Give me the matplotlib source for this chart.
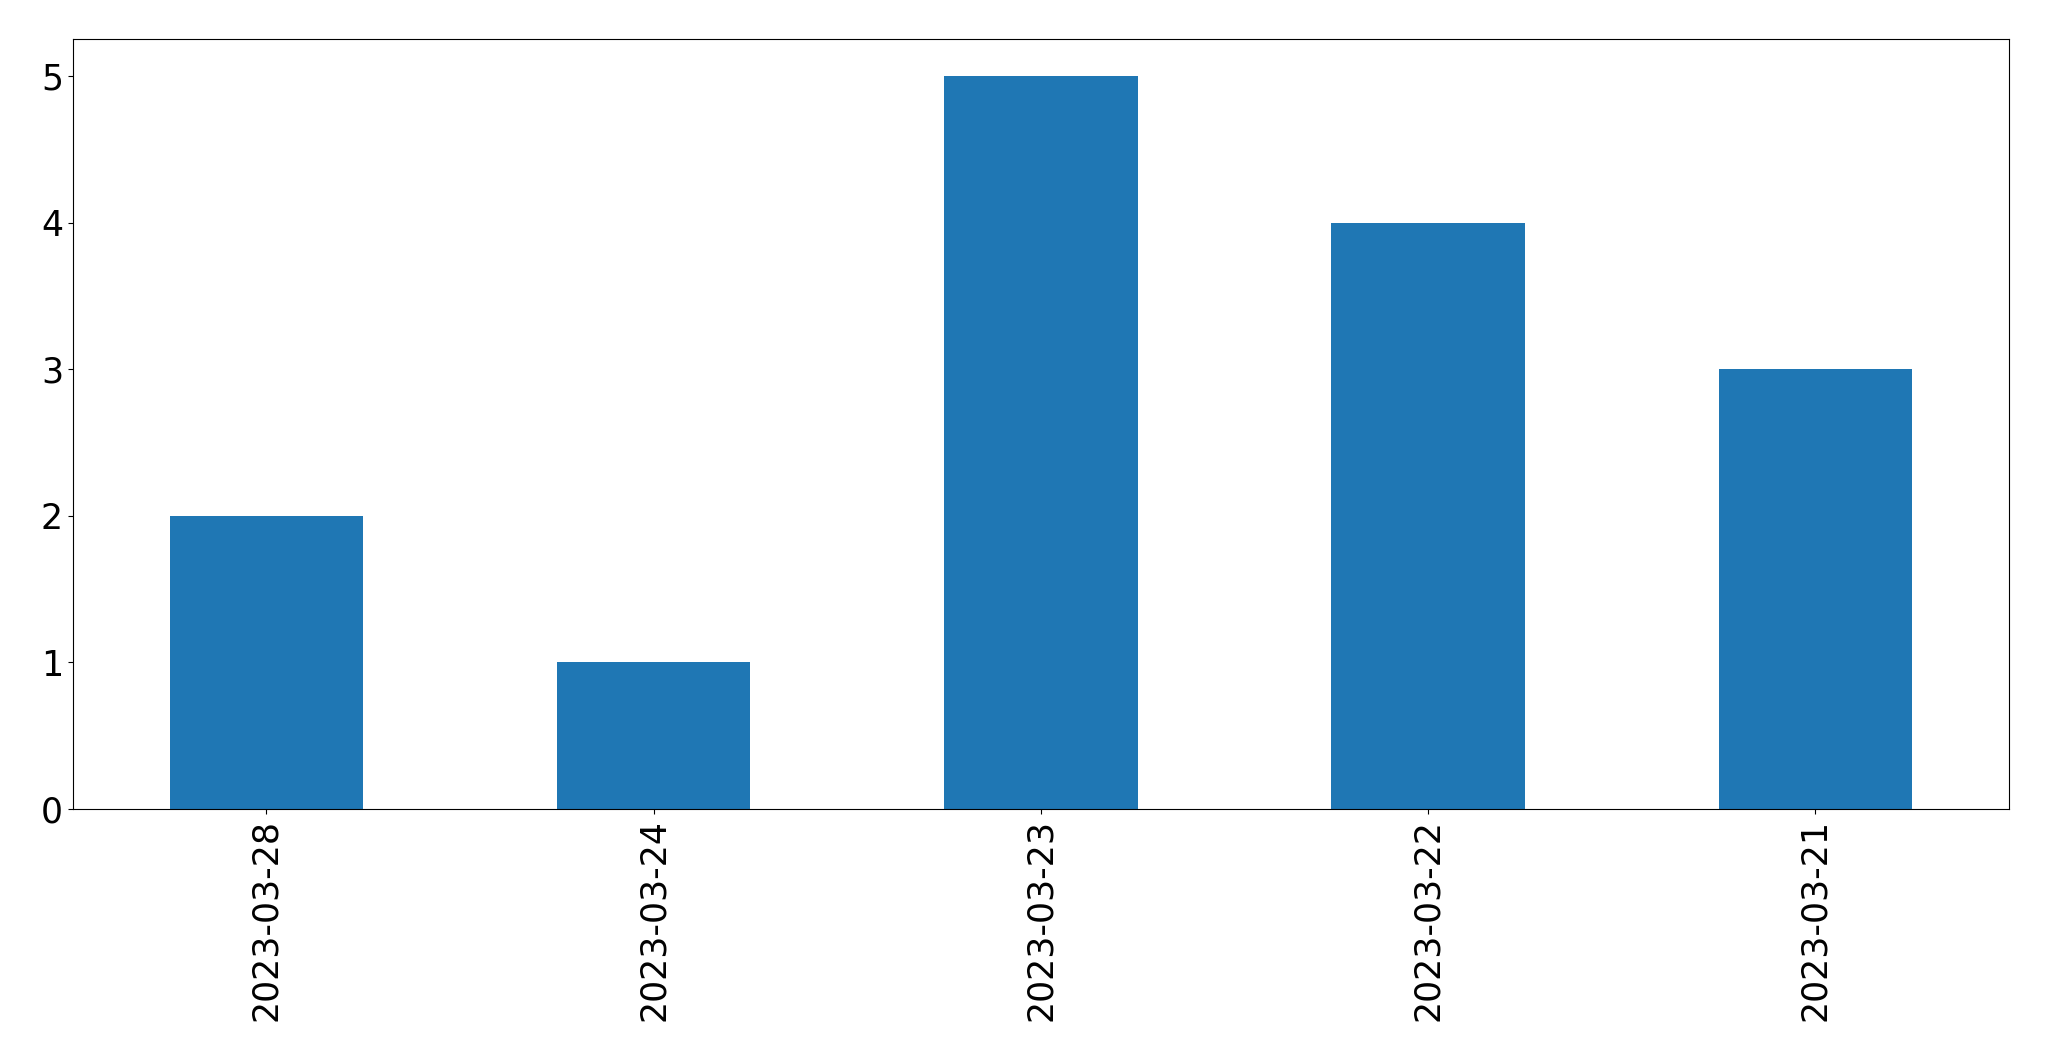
import pandas as pd
import matplotlib
matplotlib.use('Agg')
import matplotlib.pyplot as plt

# date counts, in the order they appear on the chart
dates = ['2023-03-28', '2023-03-24', '2023-03-23', '2023-03-22', '2023-03-21']
counts = [2, 1, 5, 4, 3]

s = pd.Series(counts, index=dates)

fig = plt.figure(figsize=(20.49, 10.61), dpi=100)
ax = fig.add_subplot(111)
s.plot(kind='bar', ax=ax, color='#1f77b4', fontsize=25)
ax.tick_params(axis='both', labelsize=25)

fig.subplots_adjust(left=0.0355, right=0.9805, top=0.963, bottom=0.2375)
fig.savefig('out.png', dpi=100)
